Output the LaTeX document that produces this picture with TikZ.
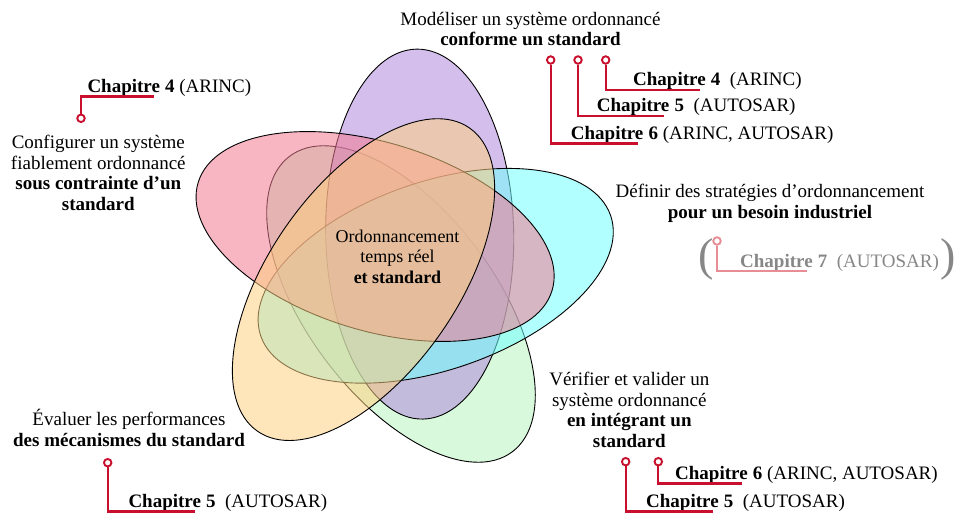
\documentclass[tikz,border=0pt]{standalone}
\usepackage{fontspec}
\setmainfont{Liberation Serif}
\usetikzlibrary{positioning,calc}
\definecolor{vgreen}{RGB}{184,244,191}
\definecolor{vpurple}{RGB}{177,137,220}
\definecolor{vcyan}{RGB}{115,255,255}
\definecolor{vpink}{RGB}{242,122,146}
\definecolor{vorange}{RGB}{253,208,130}
\definecolor{chapred}{RGB}{200,16,46}
\definecolor{chapfade}{RGB}{232,140,150}
\definecolor{fadetext}{RGB}{135,135,135}
\tikzset{venn/.style={draw=black, line width=0.9pt, fill=#1, fill opacity=0.55},
goal/.style={align=center, inner sep=0pt, anchor=north, font=\fontsize{19}{20.5}\selectfont},
chapdot/.style={circle, draw=#1, fill=white, line width=1.9pt, minimum size=7.5pt, inner sep=0pt},
chapline/.style={draw=#1, line width=2.2pt},
chapword/.style={inner sep=0pt, anchor=base west, font=\fontsize{19}{20.5}\selectfont\bfseries},
chaprest/.style={inner sep=0pt, anchor=base west, font=\fontsize{19}{20.5}\selectfont},
paren/.style={inner sep=0pt, text=fadetext, font=\fontsize{46}{48}\selectfont}}

\begin{document}
\begin{tikzpicture}[x=1pt,y=-1pt]
        \useasboundingbox (0,0) rectangle (957,513);

        \draw[venn=vgreen] (401,304) ellipse [x radius=185, y radius=94, rotate=127];
        \draw[venn=vpurple] (419.7,234.1) ellipse [x radius=185, y radius=94, rotate=91];
        \draw[venn=vcyan] (435.7,275.8) ellipse [x radius=185, y radius=94, rotate=19];
        \draw[venn=vpink] (375.1,236.5) ellipse [x radius=185, y radius=94, rotate=163];
        \draw[venn=vorange] (363.5,279.6) ellipse [x radius=185, y radius=94, rotate=55];

        \node[goal, font=\fontsize{18}{20.8}\selectfont] (core) at (397.5,229.4) {Ordonnancement\\temps réel\\\textbf{et standard}};
        \node[goal] (model) at (530.5,12) {Modéliser un système ordonnancé\\\textbf{conforme un standard}};
        \node[goal] (config) at (98.3,135.3) {Configurer un système\\fiablement ordonnancé\\\textbf{sous contrainte d’un}\\\textbf{standard}};
        \node[goal] (define) at (770,184) {Définir des stratégies d’ordonnancement\\\textbf{pour un besoin industriel}};
        \node[goal] (eval) at (129,409.4) {Évaluer les performances\\\textbf{des mécanismes du standard}};
        \node[goal] (verify) at (629.3,372) {Vérifier et valider un\\système ordonnancé\\\textbf{en intégrant un}\\\textbf{standard}};

        \node[chapdot=chapred] (dotA) at (81,118.3) {};
        \node[chapword] (chapA) at (87.3,92.3) {Chapitre};
        \node[chaprest] (chapAr) at (chapA.base east) {\textbf{\ 4} (ARINC)};
        \draw[chapline=chapred] (dotA.north) -- (dotA |- chapA.south) -- ([xshift=-6pt]chapA.south east);

        \node[chapdot=chapred] (dotB) at (605.7,60) {};
        \node[chapword] (chapB) at (633,86) {Chapitre};
        \node[chaprest] (chapBr) at (chapB.base east) {\textbf{\ 4}\ \ (ARINC)};
        \draw[chapline=chapred] (dotB.south) -- (dotB |- chapB.south) -- ([xshift=-6pt]chapB.south east);

        \node[chapdot=chapred] (dotC) at (578,60) {};
        \node[chapword] (chapC) at (596.7,111.7) {Chapitre};
        \node[chaprest] (chapCr) at (chapC.base east) {\textbf{\ 5}\ \ (AUTOSAR)};
        \draw[chapline=chapred] (dotC.south) -- (dotC |- chapC.south) -- ([xshift=-6pt]chapC.south east);

        \node[chapdot=chapred] (dotD) at (550.7,60) {};
        \node[chapword] (chapD) at (570.7,139.3) {Chapitre};
        \node[chaprest] (chapDr) at (chapD.base east) {\textbf{\ 6} (ARINC, AUTOSAR)};
        \draw[chapline=chapred] (dotD.south) -- (dotD |- chapD.south) -- ([xshift=-6pt]chapD.south east);

        \node[paren, anchor=base west] (lpar) at (698,270) {(};
        \node[paren, anchor=base east] (rpar) at (956,270) {)};
        \node[chapdot=chapfade] (dotE) at (717,241) {};
        \node[chapword, text=fadetext] (chapE) at (740,267) {Chapitre};
        \node[chaprest, text=fadetext] (chapEr) at (chapE.base east) {\textbf{\ 7}\ \ (AUTOSAR)};
        \draw[chapline=chapfade] (dotE.south) -- (dotE |- chapE.south) -- ([xshift=-6pt]chapE.south east);

        \node[chapdot=chapred] (dotF) at (107.7,462.7) {};
        \node[chapword] (chapF) at (128.3,507.3) {Chapitre};
        \node[chaprest] (chapFr) at (chapF.base east) {\textbf{\ 5}\ \ (AUTOSAR)};
        \draw[chapline=chapred] (dotF.south) -- (dotF |- chapF.south) -- ([xshift=-6pt]chapF.south east);

        \node[chapdot=chapred] (dotG) at (625.7,461.7) {};
        \node[chapword] (chapG) at (646,507.3) {Chapitre};
        \node[chaprest] (chapGr) at (chapG.base east) {\textbf{\ 5}\ \ (AUTOSAR)};
        \draw[chapline=chapred] (dotG.south) -- (dotG |- chapG.south) -- ([xshift=-6pt]chapG.south east);

        \node[chapdot=chapred] (dotH) at (658.3,461.7) {};
        \node[chapword] (chapH) at (675,479.3) {Chapitre};
        \node[chaprest] (chapHr) at (chapH.base east) {\textbf{\ 6} (ARINC, AUTOSAR)};
        \draw[chapline=chapred] (dotH.south) -- (dotH |- chapH.south) -- ([xshift=-6pt]chapH.south east);
\end{tikzpicture}
\end{document}
